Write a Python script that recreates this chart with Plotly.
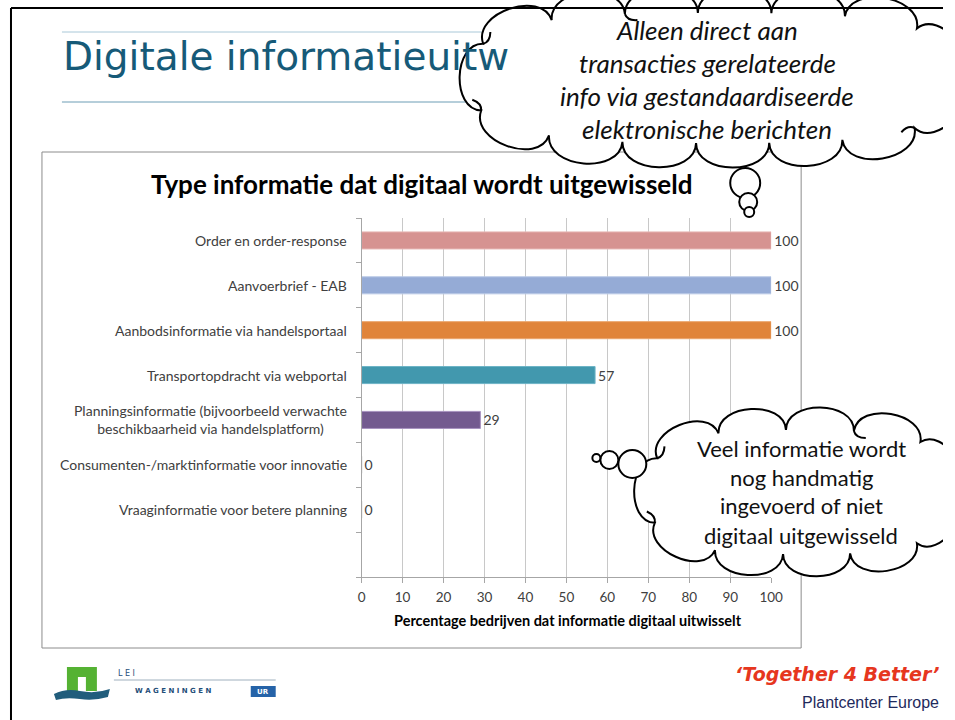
import math
import plotly.graph_objects as go

categories = [
    "Order en order-response",
    "Aanvoerbrief - EAB",
    "Aanbodsinformatie via handelsportaal",
    "Transportopdracht via webportal",
    "Planningsinformatie (bijvoorbeeld verwachte<br>beschikbaarheid via handelsplatform)",
    "Consumenten-/marktinformatie voor innovatie",
    "Vraaginformatie voor betere planning",
]
percentages = [100, 100, 100, 57, 29, 0, 0]
bar_colors = ["#d69391", "#95abd6", "#e0843a", "#4298ae", "#735a8f", "#999999", "#999999"]
bar_edges = ["#e6b6b4", "#b9c9e6", "#eaa56c", "#6db3c6", "#a893c0", "#bbbbbb", "#bbbbbb"]
x_ticks = list(range(0, 101, 10))

cloud_top_lines = ["Alleen direct aan", "transacties gerelateerde",
                   "info via gestandaardiseerde", "elektronische berichten"]
cloud_bottom_lines = ["Veel informatie wordt", "nog handmatig",
                      "ingevoerd of niet", "digitaal uitgewisseld"]

W, H = 955, 720
# the photographed page comes out about 940px wide horizontally, so lay out in that width
WX = 940
FONT = "Lato, 'Open Sans', sans-serif"


def outline_points(cx, cy, rx, ry, n, phase=0.0, p=3.0):
    # n points spaced evenly along a superellipse outline
    m = 2000
    samp = []
    for i in range(m + 1):
        t = 2 * math.pi * i / m
        c, s = math.cos(t), math.sin(t)
        samp.append((cx + rx * math.copysign(abs(c) ** (2 / p), c),
                     cy + ry * math.copysign(abs(s) ** (2 / p), s)))
    cum = [0.0]
    for i in range(1, m + 1):
        cum.append(cum[-1] + math.dist(samp[i], samp[i - 1]))
    total = cum[-1]
    pts = []
    for k in range(n):
        target = ((phase + k) / n % 1.0) * total
        j = 0
        while cum[j + 1] < target:
            j += 1
        pts.append(samp[j])
    return pts


def cloud_shapes(cx, cy, rx, ry, n, phase=0.0, k=0.45, curls=()):
    pts = outline_points(cx, cy, rx, ry, n, phase)
    d = "M %.1f %.1f" % pts[0]
    extra = []
    for i in range(len(pts)):
        x0, y0 = pts[i]
        x1, y1 = pts[(i + 1) % len(pts)]
        dx, dy = x1 - x0, y1 - y0
        L = math.hypot(dx, dy)
        nx, ny = dy / L, -dx / L
        mx, my = (x0 + x1) / 2, (y0 + y1) / 2
        if nx * (mx - cx) + ny * (my - cy) < 0:
            nx, ny = -nx, -ny
        h = k * L
        d += " C %.1f %.1f %.1f %.1f %.1f %.1f" % (
            x0 + nx * h, y0 + ny * h, x1 + nx * h, y1 + ny * h, x1, y1)
        if i in curls:
            # short inner stroke, the hidden part of the next bump
            tx, ty = dx / L, dy / L
            ex, ey = x1 - nx * 7 + tx * 12, y1 - ny * 7 + ty * 12
            qx, qy = x1 - nx * 7 + tx * 2, y1 - ny * 7 + ty * 2
            extra.append(dict(type="path", xref="x2", yref="y2", layer="above",
                              path="M %.1f %.1f Q %.1f %.1f %.1f %.1f" % (x1, y1, qx, qy, ex, ey),
                              line=dict(color="black", width=2)))
    body = dict(type="path", xref="x2", yref="y2", layer="above", path=d + " Z",
                fillcolor="white", line=dict(color="black", width=2))
    return [body] + extra


def circle(cx, cy, r):
    return dict(type="circle", xref="x2", yref="y2", layer="above",
                x0=cx - r, x1=cx + r, y0=cy - r, y1=cy + r,
                fillcolor="white", line=dict(color="black", width=2))


def note(x, y, text, font, xanchor="center", align="center", yref="paper"):
    return dict(x=x / WX, xref="paper", y=y if yref == "y" else 1 - y / H, yref=yref,
                text=text, xanchor=xanchor, yanchor="middle", align=align,
                showarrow=False, font=font)


ypos = list(range(len(categories)))

fig = go.Figure()

fig.add_trace(go.Bar(
    y=ypos, x=percentages, orientation="h", width=0.38,
    marker=dict(color=bar_colors, line=dict(color=bar_edges, width=1)),
    text=[str(v) for v in percentages], textposition="outside",
    textfont=dict(family=FONT, size=14, color="#404040"),
    constraintext="none", cliponaxis=False, hoverinfo="skip",
    xaxis="x", yaxis="y",
))

shapes = []
# title rules
shapes.append(dict(type="line", xref="x2", yref="y2", x0=58, x1=900, y0=32, y1=32,
                   line=dict(color="#a9c8d8", width=1)))
shapes.append(dict(type="line", xref="x2", yref="y2", x0=58, x1=900, y0=102, y1=102,
                   line=dict(color="#6d9db5", width=1)))
# chart frame
shapes.append(dict(type="rect", xref="x2", yref="y2", x0=38, x1=798, y0=152, y1=648,
                   line=dict(color="#8c8c8c", width=1)))
# LEI logo
shapes.append(dict(type="rect", xref="x2", yref="y2", x0=63, x1=93, y0=667, y1=691,
                   fillcolor="#55b233", line=dict(width=0)))
shapes.append(dict(type="rect", xref="x2", yref="y2", x0=74, x1=82, y0=677, y1=691,
                   fillcolor="white", line=dict(width=0)))
shapes.append(dict(type="path", xref="x2", yref="y2",
                   path="M 50 694 Q 62 688 76 691 Q 92 694 106 689 L 104 697 "
                        "Q 90 701 76 699 Q 62 697 52 700 Z",
                   fillcolor="#215d7c", line=dict(width=0)))
shapes.append(dict(type="line", xref="x2", yref="y2", x0=110, x1=272, y0=680, y1=680,
                   line=dict(color="#9fb0be", width=1)))
shapes.append(dict(type="rect", xref="x2", yref="y2", x0=247, x1=272, y0=686, y1=697,
                   fillcolor="#2563a8", line=dict(width=0)))
# clouds
shapes += cloud_shapes(712, 78, 245, 65, 15, phase=0.02, curls=(0, 6, 7, 9))
shapes += [circle(742, 183, 15), circle(745, 202, 9), circle(746, 212, 5)]
shapes += cloud_shapes(798, 492, 153, 62, 11, phase=0.03, curls=(4, 5, 8))
shapes += [circle(629, 464, 14), circle(606, 460, 9), circle(593, 458, 4)]
# slide border
shapes.append(dict(type="line", xref="x2", yref="y2", layer="above",
                   x0=7, x1=WX, y0=8, y1=8, line=dict(color="black", width=2)))
shapes.append(dict(type="line", xref="x2", yref="y2", layer="above",
                   x0=7, x1=7, y0=8, y1=720, line=dict(color="black", width=2)))

label_font = dict(family=FONT, size=14, color="#404040")
annotations = [note(345, i, cat, label_font, xanchor="right", yref="y")
               for i, cat in enumerate(categories)]
# slide title: the rest of the word runs under the thought cloud
annotations.append(note(57, 57, "Digitale informatieuitw",
                        dict(family="DejaVu Sans", size=39, color="#165a78"), xanchor="left"))
annotations.append(note(418, 184, "<b>Type informatie dat digitaal wordt uitgewisseld</b>",
                        dict(family=FONT, size=26, color="black")))
annotations.append(note(564.5, 620, "<b>Percentage bedrijven dat informatie digitaal uitwisselt</b>",
                        dict(family=FONT, size=14.5, color="black")))
for i, line in enumerate(cloud_top_lines):
    annotations.append(note(704, 30 + 33 * i, line,
                            dict(family=FONT, size=26, color="#111111", style="italic")))
for i, line in enumerate(cloud_bottom_lines):
    annotations.append(note(798, 448 + 29 * i, line,
                            dict(family=FONT, size=22, color="#111111")))
# footer texts
annotations.append(note(112, 673, "L E I",
                        dict(family="DejaVu Sans", size=8, color="#2a4f7a"), xanchor="left"))
annotations.append(note(129, 691, "<b>W A G E N I N G E N</b>",
                        dict(family="DejaVu Sans", size=7, color="#1f4e79"), xanchor="left"))
annotations.append(note(259.5, 691.5, "<b>UR</b>",
                        dict(family="DejaVu Sans", size=7, color="white")))
annotations.append(note(938, 674, "‘Together 4 Better’",
                        dict(family="DejaVu Sans", size=19, color="#e6361e",
                             style="italic", weight="bold"), xanchor="right"))
annotations.append(note(938, 702, "Plantcenter Europe",
                        dict(family="'Liberation Sans Narrow', 'Liberation Sans'",
                             size=16, color="#1e2a5c"), xanchor="right"))

fig.update_layout(
    width=W, height=H, autosize=False,
    margin=dict(l=0, r=0, t=0, b=0),
    paper_bgcolor="white", plot_bgcolor="rgba(0,0,0,0)",
    showlegend=False,
    xaxis=dict(domain=[358 / WX, 768 / WX], range=[0, 100], tickvals=x_ticks,
               showgrid=True, gridcolor="#c8c8c8", gridwidth=1, zeroline=False,
               showline=True, linecolor="#a6a6a6", ticks="outside", ticklen=5,
               ticklabelstandoff=3,
               tickcolor="#a6a6a6", tickfont=dict(family=FONT, size=13.5, color="#404040"),
               anchor="y", fixedrange=True),
    yaxis=dict(domain=[1 - 577 / H, 1 - 218 / H], range=[7.5, -0.5],
               tickvals=[i - 0.5 for i in range(len(categories) + 2)],
               showticklabels=False, showgrid=False, zeroline=False,
               showline=True, linecolor="#a6a6a6", ticks="outside", ticklen=5,
               tickcolor="#a6a6a6", anchor="x", fixedrange=True),
    xaxis2=dict(domain=[0, 1], range=[0, WX], visible=False, anchor="y2", fixedrange=True),
    yaxis2=dict(domain=[0, 1], range=[H, 0], visible=False, anchor="x2", fixedrange=True),
    shapes=shapes,
    annotations=annotations,
)

# drop the default 8px page margin so the figure starts at the window corner
fig.write_html(
    "out.html",
    config={"displayModeBar": False},
    post_script="document.body.style.margin='0';",
)
